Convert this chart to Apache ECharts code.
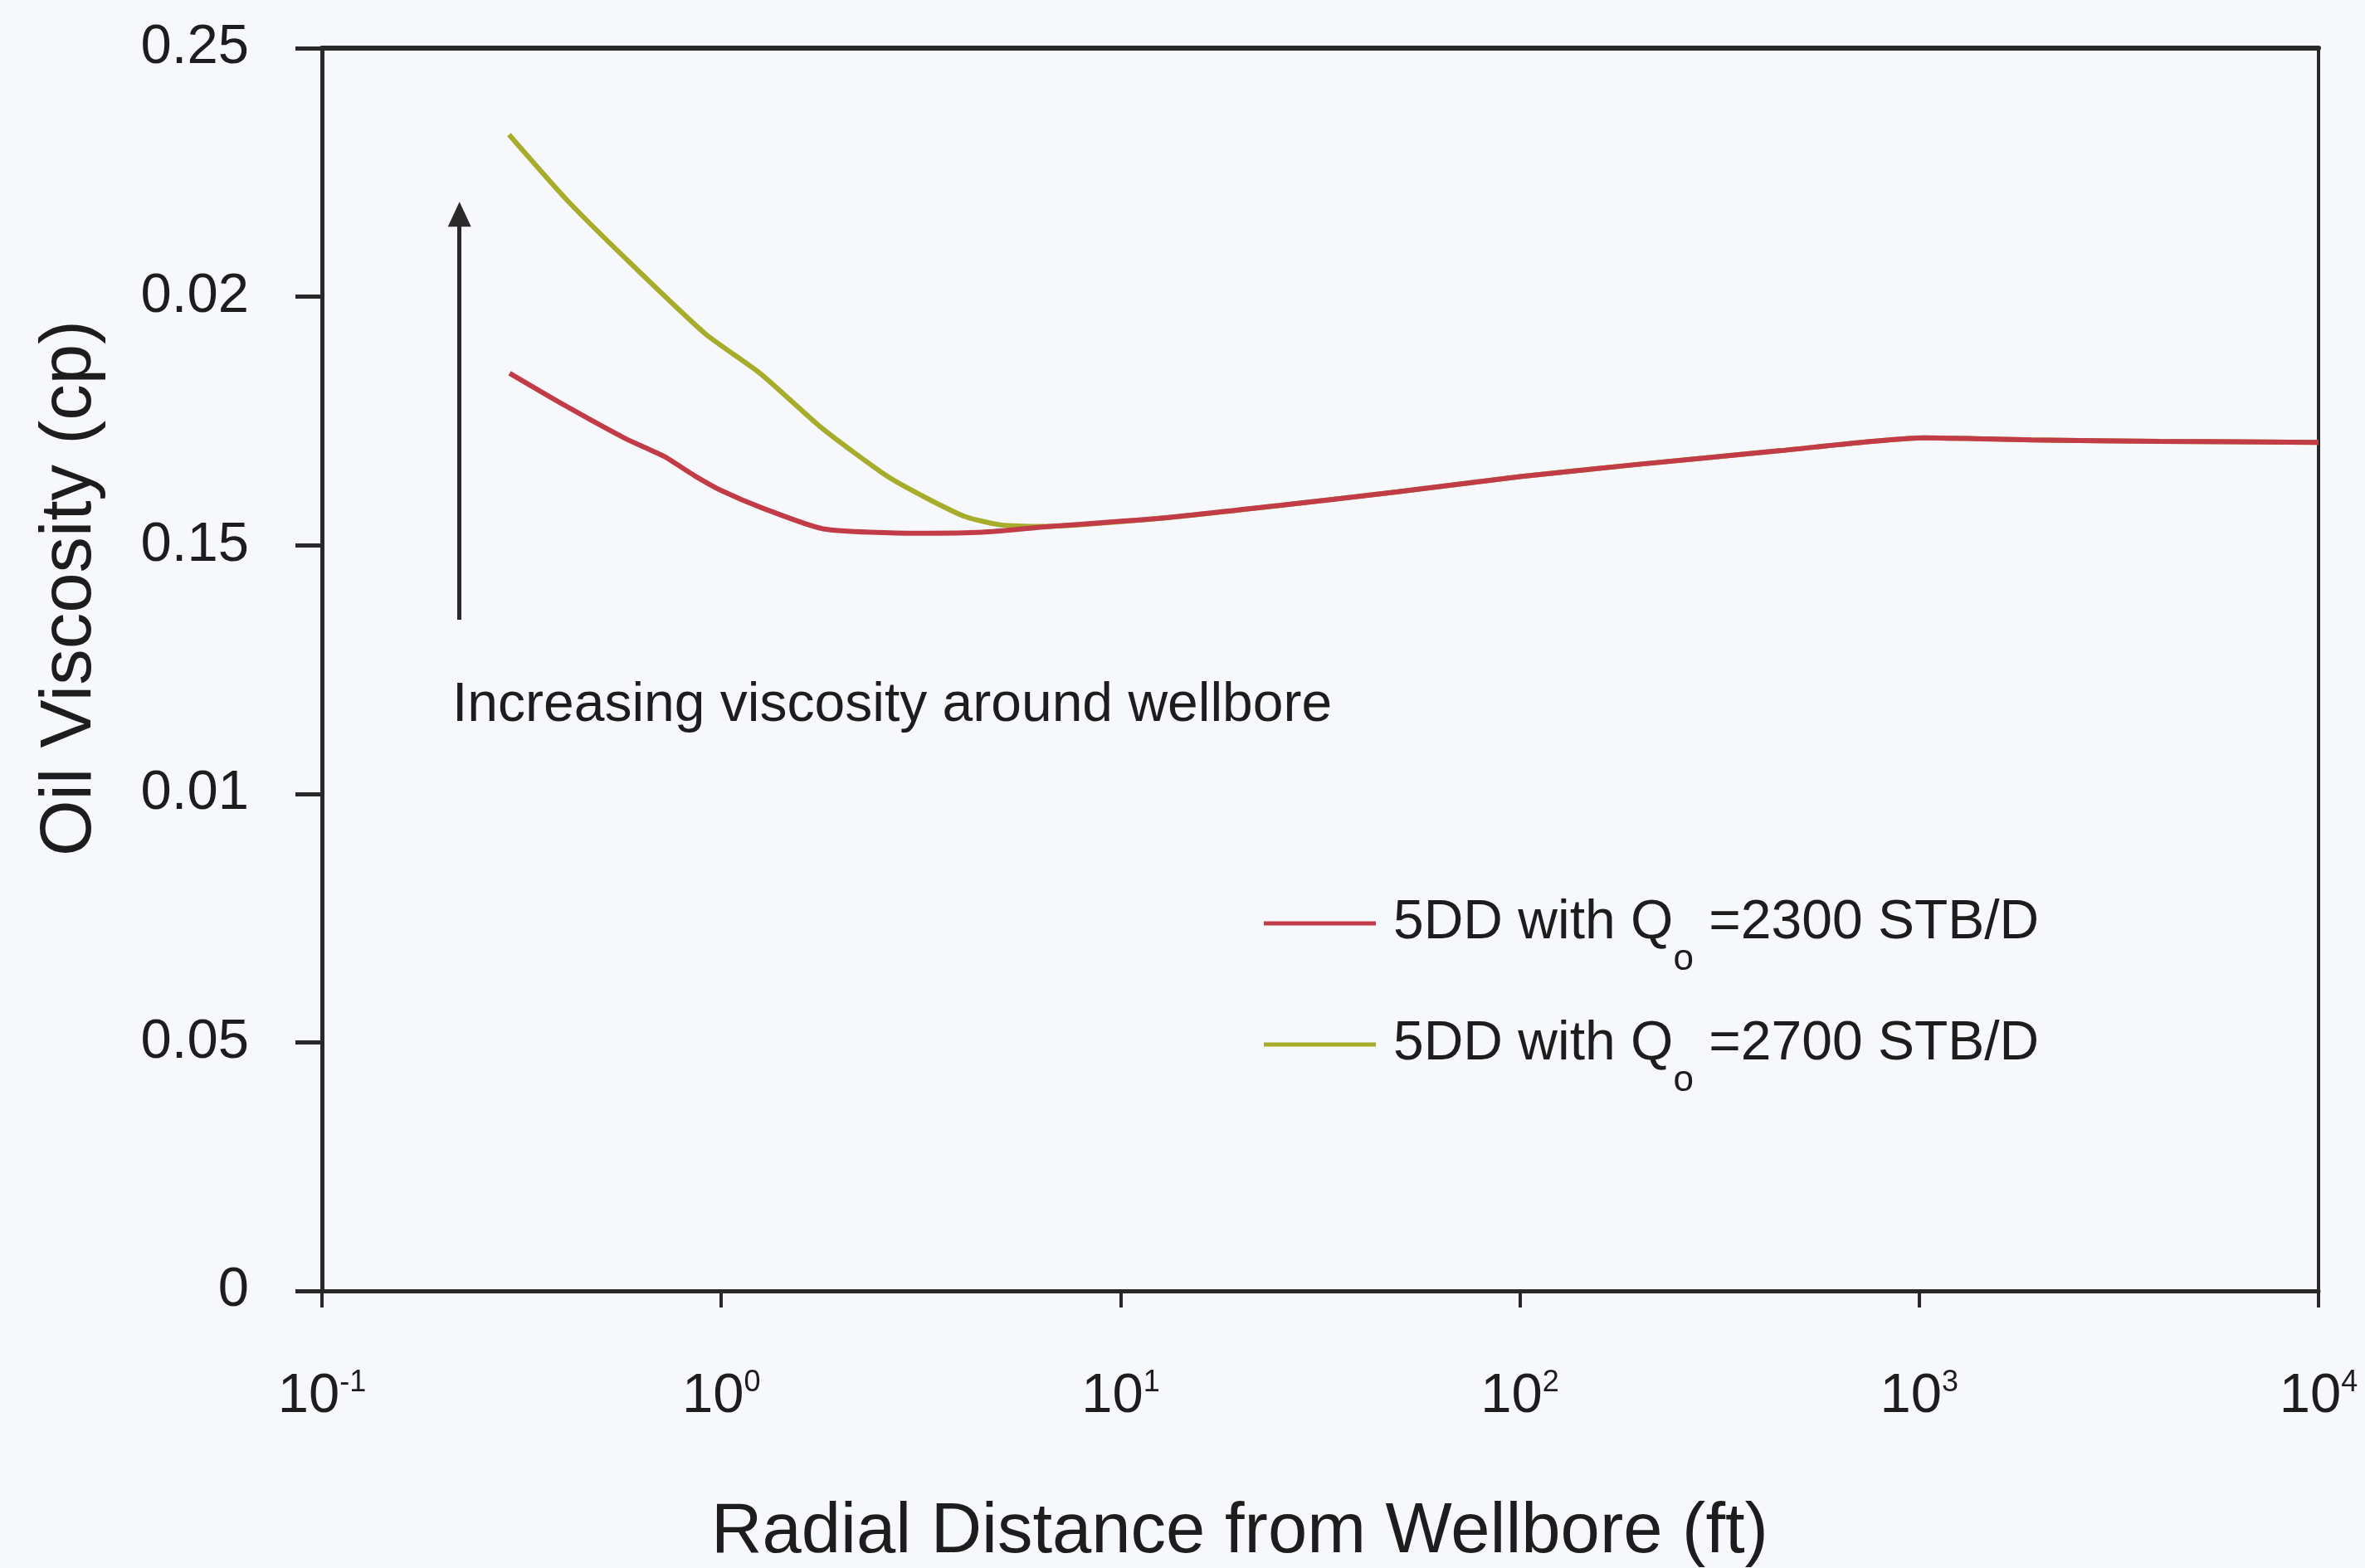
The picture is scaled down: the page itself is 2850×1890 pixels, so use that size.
<!DOCTYPE html>
<html>
<head>
<meta charset="utf-8">
<script src="https://cdn.jsdelivr.net/npm/echarts@6/dist/echarts.min.js"></script>
<style>
  html, body { margin: 0; padding: 0; background: #f6f8fc; }
  #chart { width: 2850px; height: 1890px; }
</style>
</head>
<body>
<div id="chart"></div>
<script>
// Oil viscosity (cp) versus radial distance from the wellbore (ft)
const radius2300 = [0.295, 0.404, 0.574, 0.718, 0.857, 1.0, 1.275, 1.8, 3.1, 4.5, 6.5, 12.5, 25, 49, 100, 194, 446, 1025, 1910, 4000, 10000];
const visc2300   = [0.1846, 0.1782, 0.1715, 0.1679, 0.1640, 0.1610, 0.1574, 0.1533, 0.1524, 0.1526, 0.1537, 0.1554, 0.1580, 0.1607, 0.1638, 0.1662, 0.1690, 0.1716, 0.1712, 0.1709, 0.1707];

const radius2700 = [0.294, 0.41, 0.574, 0.91, 1.25, 1.79, 2.59, 3.3, 4.1, 5.0, 6.5, 12.5, 25, 49, 100, 194, 446, 1025, 1910, 4000, 10000];
const visc2700   = [0.2326, 0.2195, 0.2078, 0.1926, 0.1846, 0.1735, 0.1640, 0.1593, 0.1557, 0.1541, 0.1538, 0.1554, 0.1580, 0.1607, 0.1638, 0.1662, 0.1690, 0.1716, 0.1712, 0.1709, 0.1707];

const seriesNames = ['5DD with Qo =2300 STB/D', '5DD with Qo =2700 STB/D'];
const yTickLabels = ['0', '0.05', '0.01', '0.15', '0.02', '0.25'];
const xTickPowers = ['-1', '0', '1', '2', '3', '4'];

// Annotation arrow: radial position and viscosity range it spans
const arrowRadius = 0.221;
const arrowFrom = 0.1350;
const arrowTo = 0.2166;

const FONT = 'Liberation Sans, Arial, Helvetica, sans-serif';
const INK = '#1d1d1d';
const AXIS = '#282828';

function pairs(xs, ys) {
  return xs.map((x, i) => [x, ys[i]]);
}

const chart = echarts.init(document.getElementById('chart'), null, { renderer: 'canvas' });

chart.setOption({
  backgroundColor: '#f6f8fc',
  animation: false,
  grid: { left: 388, right: 56, top: 58, bottom: 334, containLabel: false },
  legend: {
    orient: 'vertical',
    left: 1523,
    top: 1080,
    padding: 0,
    itemWidth: 135,
    itemHeight: 5,
    itemGap: 47,
    icon: 'rect',
    selectedMode: false,
    data: seriesNames,
    formatter: name => {
      const i = name.indexOf('Qo');
      return '{a|' + name.slice(0, i + 1) + '}{sub|o}{a|' + name.slice(i + 2) + '}';
    },
    textStyle: {
      color: INK,
      fontFamily: FONT,
      fontSize: 66,
      padding: [0, 0, 0, 16],
      rich: {
        a: { fontSize: 66, lineHeight: 132, fontFamily: FONT, color: INK },
        sub: { fontSize: 44, lineHeight: 44, verticalAlign: 'bottom', fontFamily: FONT, color: INK }
      }
    }
  },
  xAxis: [
    {
      type: 'log',
      logBase: 10,
      min: 0.1,
      max: 10000,
      position: 'bottom',
      axisLine: { show: true, onZero: false, lineStyle: { color: AXIS, width: 5 } },
      axisTick: { show: true, inside: false, length: 20, lineStyle: { color: AXIS, width: 4 } },
      splitLine: { show: false },
      minorTick: { show: false },
      axisLabel: {
        margin: 93,
        color: INK,
        fontFamily: FONT,
        formatter: v => '{b|10}{s|' + xTickPowers[Math.round(Math.log10(v)) + 1] + '}',
        rich: {
          b: { fontSize: 67, lineHeight: 70, fontFamily: FONT, color: INK },
          s: { fontSize: 36, lineHeight: 36, verticalAlign: 'top', fontFamily: FONT, color: INK }
        }
      }
    },
    {
      type: 'log',
      logBase: 10,
      min: 0.1,
      max: 10000,
      position: 'top',
      axisLine: { show: true, onZero: false, lineStyle: { color: AXIS, width: 6 } },
      axisTick: { show: false },
      axisLabel: { show: false },
      splitLine: { show: false }
    }
  ],
  yAxis: [
    {
      type: 'value',
      min: 0,
      max: 0.25,
      interval: 0.05,
      position: 'left',
      axisLine: { show: true, onZero: false, lineStyle: { color: AXIS, width: 5 } },
      axisTick: { show: true, inside: false, length: 32, lineStyle: { color: AXIS, width: 5 } },
      splitLine: { show: false },
      axisLabel: {
        margin: 88,
        color: INK,
        fontFamily: FONT,
        fontSize: 67,
        formatter: v => yTickLabels[Math.round(v / 0.05)]
      }
    },
    {
      type: 'value',
      min: 0,
      max: 0.25,
      position: 'right',
      axisLine: { show: true, onZero: false, lineStyle: { color: AXIS, width: 4 } },
      axisTick: { show: false },
      axisLabel: { show: false },
      splitLine: { show: false }
    }
  ],
  series: [
    {
      name: seriesNames[1],
      type: 'line',
      xAxisIndex: 0,
      yAxisIndex: 0,
      data: pairs(radius2700, visc2700),
      showSymbol: false,
      smooth: 0.2,
      color: '#a7ac2b',
      lineStyle: { color: '#a7ac2b', width: 6 },
      z: 2
    },
    {
      name: seriesNames[0],
      type: 'line',
      xAxisIndex: 0,
      yAxisIndex: 0,
      data: pairs(radius2300, visc2300),
      showSymbol: false,
      smooth: 0.2,
      color: '#c23c48',
      lineStyle: { color: '#c23c48', width: 6 },
      z: 3,
      markLine: {
        silent: true,
        animation: false,
        symbol: ['none', 'triangle'],
        symbolSize: [28, 30],
        label: { show: false },
        lineStyle: { color: '#2a2a2a', width: 5, type: 'solid' },
        emphasis: { disabled: true },
        data: [[{ coord: [arrowRadius, arrowFrom] }, { coord: [arrowRadius, arrowTo] }]]
      }
    }
  ],
  graphic: [
    {
      type: 'text',
      x: 85,
      y: 709,
      rotation: Math.PI / 2,
      style: { text: 'Oil Viscosity (cp)', fontSize: 87, fontFamily: FONT, fill: INK, align: 'center', verticalAlign: 'middle' }
    },
    {
      type: 'text',
      x: 1494,
      y: 1848,
      style: { text: 'Radial Distance from Wellbore (ft)', fontSize: 85, fontFamily: FONT, fill: INK, align: 'center', verticalAlign: 'middle' }
    },
    {
      type: 'text',
      x: 545,
      y: 851,
      style: { text: 'Increasing viscosity around wellbore', fontSize: 66, fontFamily: FONT, fill: INK, align: 'left', verticalAlign: 'middle' }
    }
  ]
});
</script>
</body>
</html>
